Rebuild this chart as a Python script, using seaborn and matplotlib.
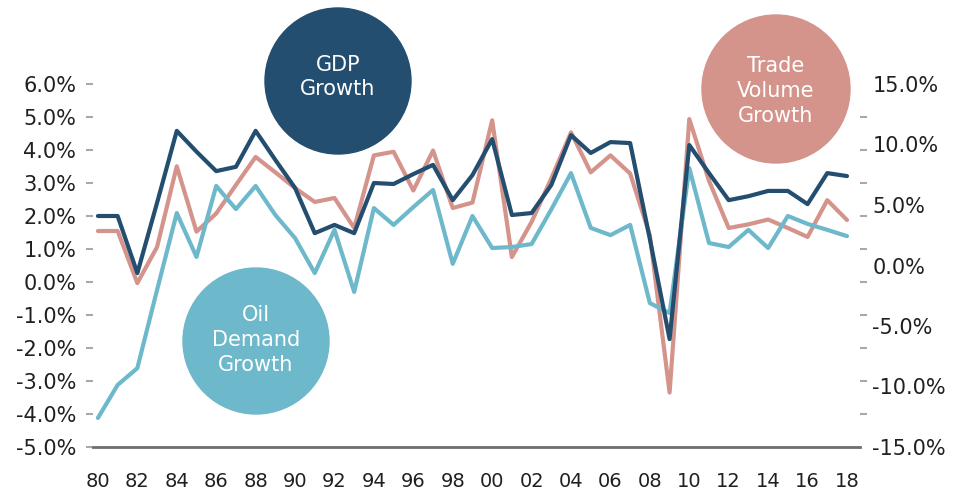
import numpy as np
import pandas as pd
import matplotlib
matplotlib.use("Agg")
import matplotlib.pyplot as plt
from matplotlib.patches import Circle
from matplotlib.ticker import FixedLocator
import seaborn as sns

years = list(range(1980, 2019))
gdp_growth = [2.0, 2.0, 0.27, 2.4, 4.58, 3.95, 3.36, 3.49, 4.58, 3.70,
              2.85, 1.48, 1.73, 1.48, 3.0, 2.97, 3.27, 3.55, 2.48, 3.24,
              4.33, 2.03, 2.09, 2.94, 4.45, 3.91, 4.24, 4.21, 1.3, -1.73,
              4.15, 3.3, 2.48, 2.6, 2.76, 2.76, 2.36, 3.30, 3.21]
oil_demand_growth = [-4.12, -3.12, -2.61, -0.24, 2.09, 0.76, 2.91, 2.21, 2.91, 2.03,
                     1.33, 0.27, 1.58, -0.30, 2.24, 1.73, 2.27, 2.79, 0.55, 2.0,
                     1.03, 1.06, 1.15, 2.2, 3.30, 1.64, 1.42, 1.73, -0.64, -0.94,
                     3.45, 1.18, 1.06, 1.58, 1.03, 2.0, 1.76, 1.58, 1.39]
trade_volume_growth = [2.85, 2.85, -1.45, 1.53, 8.2, 2.8, 4.3, 6.65, 8.97, 7.7,
                       6.4, 5.25, 5.58, 3.1, 9.1, 9.4, 6.2, 9.5, 4.75, 5.2,
                       12.0, 0.7, 3.6, 7.2, 11.0, 7.7, 9.1, 7.6, 2.5, -10.5,
                       12.1, 7.0, 3.1, 3.4, 3.8, 3.1, 2.36, 5.4, 3.76]

left_ticks = list(range(-5, 7))
right_ticks = [-15, -10, -5, 0, 5, 10, 15]
x_ticks = list(range(1980, 2019, 2))
x_labels = [f"{y % 100:02d}" for y in x_ticks]

NAVY = "#234e6f"
SALMON = "#d4938b"
LIGHTBLUE = "#6db8cb"
TICKGRAY = "#a7a9ac"
AXISGRAY = "#6d6e71"
TEXT = "#231f20"

df = pd.DataFrame({"year": years, "gdp": gdp_growth, "oil": oil_demand_growth,
                   "trade": trade_volume_growth})

sns.set_theme(style="white")
plt.rcParams["font.family"] = ["DejaVu Sans"]

W, H = 956, 493
fig = plt.figure(figsize=(W / 100, H / 100), dpi=100)
ax = fig.add_axes([93 / W, (H - 447) / H, (860 - 93) / W, (447 - 84) / H])
ax2 = ax.twinx()

lw = 3.0
sns.lineplot(data=df, x="year", y="trade", ax=ax2, color=SALMON, linewidth=lw)
sns.lineplot(data=df, x="year", y="oil", ax=ax, color=LIGHTBLUE, linewidth=lw)
sns.lineplot(data=df, x="year", y="gdp", ax=ax, color=NAVY, linewidth=lw)

ax.set_zorder(ax2.get_zorder() + 1)
ax.patch.set_visible(False)

for a in (ax, ax2):
    a.set_xlabel("")
    a.set_ylabel("")
    for s in ("top", "left", "right", "bottom"):
        a.spines[s].set_visible(False)
ax.spines["bottom"].set_visible(True)
ax.spines["bottom"].set_color(AXISGRAY)
ax.spines["bottom"].set_linewidth(2.0)

ax.set_xlim(1979.75, 2018.66)
ax.set_ylim(-5, 6)
ax2.set_ylim(-15, 15)

ax.set_xticks(x_ticks)
ax.set_xticklabels(x_labels)
ax.tick_params(axis="x", length=0, pad=18, labelsize=14, labelcolor=TEXT)

ax.set_yticks(left_ticks)
ax.set_yticklabels([f"{v:.1f}%" for v in left_ticks])
ax.tick_params(axis="y", left=True, length=5, width=1.5, color=TICKGRAY,
               pad=7, labelsize=15, labelcolor=TEXT)

ax2.set_yticks(right_ticks)
ax2.set_yticklabels([f"{v:.1f}%" for v in right_ticks])
ax2.yaxis.set_minor_locator(FixedLocator(np.linspace(-15, 15, len(left_ticks))))
ax2.tick_params(axis="y", which="major", right=True, length=0, pad=9,
                labelsize=15, labelcolor=TEXT)
ax2.tick_params(axis="y", which="minor", right=True, length=5, width=1.5,
                color=TICKGRAY)

def bubble(cx, cy, r, color, text, ty):
    fig.add_artist(Circle((cx / 100, (H - cy) / 100), r / 100,
                          transform=fig.dpi_scale_trans, color=color, zorder=5))
    fig.text(cx / W, 1 - ty / H, text, ha="center", va="center", color="white",
             fontsize=15, linespacing=1.3, zorder=6)

bubble(338, 81, 73, NAVY, "GDP\nGrowth", 77)
bubble(776, 89, 74, SALMON, "Trade\nVolume\nGrowth", 91)
bubble(256, 341, 73, LIGHTBLUE, "Oil\nDemand\nGrowth", 340)

fig.savefig("out.png", dpi=100)
